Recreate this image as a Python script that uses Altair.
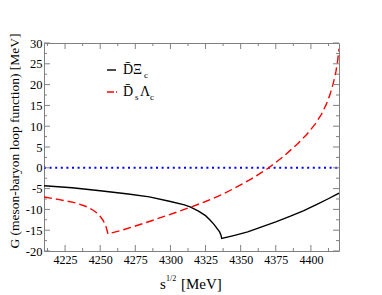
import altair as alt
import pandas as pd

# D-bar Xi_c channel (black solid)
e_dxic = [4210, 4230, 4250, 4270, 4285, 4300, 4310, 4314, 4320, 4325, 4328, 4331, 4333, 4335, 4336, 4336.5,
          4345, 4355, 4365, 4375, 4385, 4395, 4405, 4412, 4420]
g_dxic = [-4.3, -4.8, -5.5, -6.3, -7.0, -8.1, -8.9, -9.4, -10.4, -11.5, -12.5, -13.6, -14.5, -15.4, -16.2, -17.0,
          -16.3, -15.4, -14.2, -13.0, -11.7, -10.3, -8.7, -7.5, -6.1]

# D-bar_s Lambda_c channel (red dashed)
e_dslc = [4210, 4220, 4231, 4240, 4245, 4249, 4252, 4254, 4255, 4255.5, 4265, 4275, 4285, 4295, 4305, 4314,
          4325, 4337, 4345, 4357, 4365, 4370, 4380, 4390, 4397, 4403, 4407.6, 4411, 4413.6, 4416, 4417.8, 4419, 4420]
g_dslc = [-7.0, -7.6, -8.3, -9.3, -10.2, -11.2, -12.6, -14.0, -15.2, -15.9, -15.05, -14.0, -12.9, -11.75, -10.6, -9.5,
          -8.1, -6.4, -5.0, -2.8, -1.1, 0.0, 2.6, 5.6, 8.0, 10.5, 12.9, 15.3, 17.6, 20.4, 23.1, 25.6, 28.6]

# zero reference (blue dotted)
e_zero = [4210, 4420]
g_zero = [0, 0]

x_major = [4225, 4250, 4275, 4300, 4325, 4350, 4375, 4400]
x_minor = [4212.5, 4237.5, 4262.5, 4287.5, 4312.5, 4337.5, 4362.5, 4387.5, 4412.5]
y_major = [-20, -15, -10, -5, 0, 5, 10, 15, 20, 25, 30]
y_minor = [-17.5, -12.5, -7.5, -2.5, 2.5, 7.5, 12.5, 17.5, 22.5, 27.5]

W, H = 295, 208
FONT = "Liberation Serif"

xs = alt.Scale(domain=[4210, 4420], nice=False, zero=False)
ys = alt.Scale(domain=[-20, 30], nice=False, zero=False)
X = alt.X("E:Q", scale=xs, axis=alt.Axis(values=x_major, title=None, labelPadding=3,
                                          labelFontSize=12, labelExpr="'' + datum.value"))
Y = alt.Y("G:Q", scale=ys, axis=alt.Axis(values=y_major, title=None, labelPadding=2,
                                          labelFontSize=12.5, labelExpr="'' + datum.value"))

df_b = pd.DataFrame({"E": e_dxic, "G": g_dxic})
df_r = pd.DataFrame({"E": e_dslc, "G": g_dslc})
df_z = pd.DataFrame({"E": e_zero, "G": g_zero})

zero = alt.Chart(df_z).mark_line(color="#0000ff", strokeWidth=2, strokeDash=[2, 3.6]).encode(x=X, y=Y)
black = alt.Chart(df_b).mark_line(color="black", strokeWidth=1.4, clip=True).encode(x=X, y=Y)
red = alt.Chart(df_r).mark_line(color="#ff0000", strokeWidth=1.4, strokeDash=[8, 4], clip=True).encode(x=X, y=Y)

dxm = pd.DataFrame({"E": x_major})
dxn = pd.DataFrame({"E": x_minor})
dym = pd.DataFrame({"G": y_major})
dyn = pd.DataFrame({"G": y_minor})
TC = "#808080"
ticks = [
    alt.Chart(dxm).mark_rule(color=TC).encode(x=X, y=alt.value(H), y2=alt.value(H - 6)),
    alt.Chart(dxn).mark_rule(color=TC).encode(x=X, y=alt.value(H), y2=alt.value(H - 3)),
    alt.Chart(dxm).mark_rule(color=TC).encode(x=X, y=alt.value(0), y2=alt.value(6)),
    alt.Chart(dxn).mark_rule(color=TC).encode(x=X, y=alt.value(0), y2=alt.value(3)),
    alt.Chart(dym).mark_rule(color=TC).encode(y=Y, x=alt.value(0), x2=alt.value(6)),
    alt.Chart(dyn).mark_rule(color=TC).encode(y=Y, x=alt.value(0), x2=alt.value(3)),
    alt.Chart(dym).mark_rule(color=TC).encode(y=Y, x=alt.value(W), x2=alt.value(W - 6)),
    alt.Chart(dyn).mark_rule(color=TC).encode(y=Y, x=alt.value(W), x2=alt.value(W - 3)),
]

def txt(s, x, y, size, angle=0, align="left", baseline="alphabetic", color="black"):
    kw = dict(font=FONT, fontSize=size, align=align, baseline=baseline, color=color)
    if angle:
        kw["angle"] = angle
    return alt.Chart(pd.DataFrame({"t": [s]})).mark_text(**kw).encode(
        text="t:N", x=alt.value(x), y=alt.value(y))

texts = [
    txt("G (meson-baryon loop function) [MeV]", -29, 98, 13.5, angle=270, align="center", baseline="middle"),
    txt("s", 116, 246, 15),
    txt("1/2", 122, 238, 8),
    txt("[MeV]", 137, 246, 15),
    txt("D\u0304\u039e", 79, 31, 14),
    txt("c", 100, 35, 9),
    txt("D\u0304", 79, 53, 14),
    txt("s", 91, 57, 9),
    txt("\u039b", 96, 53, 14),
    txt("c", 106, 57, 9),
]

leg = [
    alt.Chart(pd.DataFrame({"a": [0]})).mark_rule(color="black", strokeWidth=1.4).encode(
        x=alt.value(63), x2=alt.value(72), y=alt.value(27)),
    alt.Chart(pd.DataFrame({"a": [0]})).mark_rule(color="#ff0000", strokeWidth=1.4, strokeDash=[7, 2]).encode(
        x=alt.value(63), x2=alt.value(73), y=alt.value(49)),
]

chart = alt.layer(zero, black, red, *ticks, *leg, *texts).properties(
    width=W, height=H,
    autosize=alt.AutoSizeParams(type="none"),
    padding={"left": 36, "top": 35, "right": 35, "bottom": 44},
).configure_view(stroke=TC, strokeWidth=1).configure_axis(
    grid=False, domain=False, ticks=False, labelFont=FONT, labelColor="black"
)

chart.save("out.html", embed_options={"renderer": "svg", "actions": False})
